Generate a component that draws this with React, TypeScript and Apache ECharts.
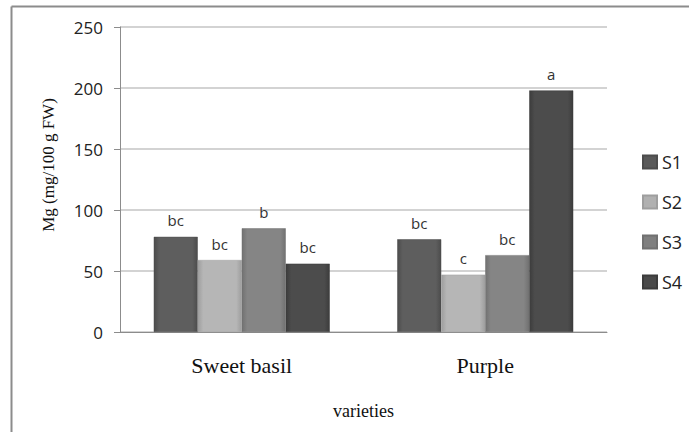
import React, { useEffect, useRef } from "react";
import * as echarts from "echarts";

const categories = ["Sweet basil", "Purple"];
const seriesNames = ["S1", "S2", "S3", "S4"];
const s1 = [78, 76];
const s2 = [59, 47];
const s3 = [85, 63];
const s4 = [56, 198];
const letters1 = ["bc", "bc"];
const letters2 = ["bc", "c"];
const letters3 = ["b", "bc"];
const letters4 = ["bc", "a"];
const yTicks = [0, 50, 100, 150, 200, 250];

const colors = [
  ["#4c4c4c", "#5e5e5e", "#4c4c4c"],
  ["#9e9e9e", "#b6b6b6", "#9e9e9e"],
  ["#717171", "#858585", "#717171"],
  ["#3c3c3c", "#4c4c4c", "#3c3c3c"],
];
const legendColors = ["#595959", "#b0b0b0", "#7f7f7f", "#4a4a4a"];

export default function App() {
  const ref = useRef<HTMLDivElement>(null);
  useEffect(() => {
    if (!ref.current) return;
    const chart = echarts.init(ref.current, undefined, { renderer: "svg" });
    const values = [s1, s2, s3, s4];
    const letters = [letters1, letters2, letters3, letters4];
    const series = seriesNames.map((name, i) => ({
      name,
      type: "bar",
      barWidth: 44,
      barGap: "0%",
      barCategoryGap: "28%",
      data: values[i].map((v, j) => ({ value: v, letter: letters[i][j] })),
      itemStyle: {
        color: new echarts.graphic.LinearGradient(0, 0, 1, 0, [
          { offset: 0, color: colors[i][0] },
          { offset: 0.12, color: colors[i][1] },
          { offset: 0.88, color: colors[i][1] },
          { offset: 1, color: colors[i][2] },
        ]),
        borderColor: colors[i][0],
        borderWidth: 0.5,
      },
      label: {
        show: true,
        position: "top",
        distance: 9,
        fontFamily: "Open Sans",
        fontSize: 15,
        color: "#333",
        formatter: (p: any) => p.data.letter,
      },
    }));
    chart.setOption({
      animation: false,
      backgroundColor: "#fff",
      grid: { left: 120, right: 82, top: 27, bottom: 100 },
      legend: {
        orient: "vertical",
        left: 637,
        top: 148,
        icon: "rect",
        itemWidth: 14,
        itemHeight: 13,
        itemGap: 22,
        data: seriesNames.map((n, i) => ({
          name: n,
          itemStyle: { color: legendColors[i] },
        })),
        textStyle: { fontFamily: "Open Sans", fontSize: 18, color: "#222" },
      },
      xAxis: {
        type: "category",
        data: categories,
        axisTick: { show: false },
        axisLine: { lineStyle: { color: "#8c8c8c", width: 1 } },
        axisLabel: {
          fontFamily: "Liberation Serif",
          fontSize: 22,
          color: "#111",
          margin: 22,
        },
        name: "varieties",
        nameLocation: "middle",
        nameGap: 70,
        nameTextStyle: { fontFamily: "Liberation Serif", fontSize: 18, color: "#111" },
      },
      yAxis: {
        type: "value",
        min: yTicks[0],
        max: yTicks[yTicks.length - 1],
        interval: 50,
        axisLine: { show: true, lineStyle: { color: "#8c8c8c" } },
        axisTick: { show: true, length: 6, lineStyle: { color: "#8c8c8c" } },
        axisLabel: {
          fontFamily: "Open Sans",
          fontSize: 17,
          color: "#222",
          margin: 17,
        },
        splitLine: { lineStyle: { color: "#c4c4c4", width: 1.5 } },
      },
      graphic: [
        {
          type: "line",
          shape: { x1: 11.5, y1: 6.5, x2: 689, y2: 6.5 },
          style: { stroke: "#8c8c8c", lineWidth: 2 },
        },
        {
          type: "line",
          shape: { x1: 11.5, y1: 6.5, x2: 11.5, y2: 432 },
          style: { stroke: "#8c8c8c", lineWidth: 2 },
        },
        {
          type: "text",
          x: 48,
          y: 165,
          rotation: Math.PI / 2,
          style: {
            text: "Mg (mg/100 g FW)",
            fontFamily: "Liberation Serif",
            fontSize: 17,
            fill: "#111",
            textAlign: "center",
            textVerticalAlign: "middle",
          },
        },
      ],
      series,
    });
    return () => chart.dispose();
  }, []);
  return (
    <div
      ref={ref}
      style={{ position: "fixed", left: 0, top: 0, width: 689, height: 432 }}
    />
  );
}
